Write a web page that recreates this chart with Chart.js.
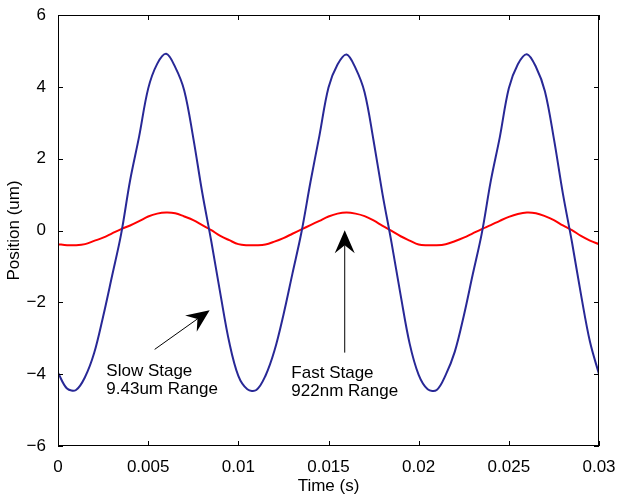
<!DOCTYPE html>
<html>
<head>
<meta charset="utf-8">
<script src="https://cdn.jsdelivr.net/npm/chart.js@4.4.1/dist/chart.umd.min.js"></script>
<style>
  html, body { margin: 0; padding: 0; background: #fff; }
  #chart { display: block; }
</style>
</head>
<body>
<canvas id="chart" width="617" height="497"></canvas>
<script>

/**
 * time axis (s)
 */
var time = [
  0, 0.0005, 0.001, 0.0015, 0.002, 0.0025, 0.003, 0.0035, 0.004, 0.0045,
  0.005, 0.0055, 0.006, 0.0065, 0.007, 0.0075, 0.008, 0.0085, 0.009, 0.0095,
  0.01, 0.0105, 0.011, 0.0115, 0.012, 0.0125, 0.013, 0.0135, 0.014, 0.0145,
  0.015, 0.0155, 0.016, 0.0165, 0.017, 0.0175, 0.018, 0.0185, 0.019, 0.0195,
  0.02, 0.0205, 0.021, 0.0215, 0.022, 0.0225, 0.023, 0.0235, 0.024, 0.0245,
  0.025, 0.0255, 0.026, 0.0265, 0.027, 0.0275, 0.028, 0.0285, 0.029, 0.0295,
  0.03
];

/**
 * slow stage position (um), blue
 */
var slowStage = [
  -3.96, -4.40, -4.44, -4.08, -3.42, -2.40, -1.26, -0.10, 1.40, 2.62,
  3.95, 4.64, 4.92, 4.55, 3.90, 2.58, 1.05, -0.30, -1.75, -3.12,
  -4.05, -4.42, -4.44, -4.05, -3.35, -2.35, -1.20, -0.05, 1.35, 2.65,
  3.98, 4.62, 4.90, 4.52, 3.85, 2.50, 1.00, -0.35, -1.80, -3.15,
  -4.02, -4.42, -4.44, -4.02, -3.38, -2.38, -1.22, -0.08, 1.38, 2.60,
  3.96, 4.63, 4.91, 4.56, 3.88, 2.55, 1.02, -0.32, -1.78, -3.10,
  -4.00
];

/**
 * fast stage position (um), red
 */
var fastStage = [
  -0.38, -0.41, -0.41, -0.38, -0.29, -0.20, -0.08, 0.04, 0.14, 0.26,
  0.39, 0.47, 0.50, 0.48, 0.39, 0.29, 0.15, 0.01, -0.15, -0.27,
  -0.38, -0.41, -0.41, -0.39, -0.31, -0.21, -0.09, 0.03, 0.15, 0.27,
  0.39, 0.47, 0.50, 0.47, 0.40, 0.28, 0.13, -0.01, -0.16, -0.28,
  -0.39, -0.41, -0.41, -0.38, -0.30, -0.20, -0.08, 0.04, 0.15, 0.27,
  0.38, 0.46, 0.50, 0.48, 0.40, 0.29, 0.14, 0.01, -0.15, -0.28,
  -0.38
];

/**
 * tick labels
 */
var xTickValues = [0, 0.005, 0.01, 0.015, 0.02, 0.025, 0.03];
var xTickLabels = ["0", "0.005", "0.01", "0.015", "0.02", "0.025", "0.03"];
var yTickValues = [-6, -4, -2, 0, 2, 4, 6];
var yTickLabels = ["\u22126", "\u22124", "\u22122", "0", "2", "4", "6"];

/**
 * annotations (data coordinates)
 */
var notes = [
  { from: [0.00536, -3.31], to: [0.00841, -2.22], at: [0.00268, -4.06], lines: ["Slow Stage", "9.43um Range"] },
  { from: [0.0159, -3.40], to: [0.0159, 0.01], at: [0.01294, -4.12], lines: ["Fast Stage", "922nm Range"] }
];

var FONT = "'Liberation Sans', Arial, Helvetica, sans-serif";

function toPoints(xs, ys) {
  var out = [];
  for (var i = 0; i < xs.length; i++) {
    out.push({ x: xs[i], y: ys[i] });
  }
  return out;
}

function arrow(ctx, x0, y0, x1, y1) {
  var ang = Math.atan2(y1 - y0, x1 - x0);
  var len = 23, half = 10, notch = 15;

  ctx.save();
  ctx.strokeStyle = "#000";
  ctx.fillStyle = "#000";
  ctx.lineWidth = 1;
  ctx.beginPath();
  ctx.moveTo(x0, y0);
  ctx.lineTo(x1 - Math.cos(ang) * notch, y1 - Math.sin(ang) * notch);
  ctx.stroke();

  ctx.translate(x1, y1);
  ctx.rotate(ang);
  ctx.beginPath();
  ctx.moveTo(0, 0);
  ctx.lineTo(-len, -half);
  ctx.lineTo(-notch, 0);
  ctx.lineTo(-len, half);
  ctx.closePath();
  ctx.fill();
  ctx.restore();
}

/**
 * box, inward ticks and the two notes
 */
var framePlugin = {
  id: "frame",
  afterDraw: function(chart) {
    var ctx = chart.ctx;
    var a = chart.chartArea;
    var sx = chart.scales.x, sy = chart.scales.y;
    var tick = 5;

    ctx.save();
    ctx.strokeStyle = "#000";
    ctx.lineWidth = 1;
    ctx.strokeRect(a.left + 0.5, a.top + 0.5, a.right - a.left - 1, a.bottom - a.top - 1);

    ctx.beginPath();
    xTickValues.forEach(function(v) {
      var px = Math.round(sx.getPixelForValue(v)) + 0.5;
      ctx.moveTo(px, a.bottom);
      ctx.lineTo(px, a.bottom - tick);
      ctx.moveTo(px, a.top);
      ctx.lineTo(px, a.top + tick);
    });
    yTickValues.forEach(function(v) {
      var py = Math.round(sy.getPixelForValue(v)) + 0.5;
      ctx.moveTo(a.left, py);
      ctx.lineTo(a.left + tick, py);
      ctx.moveTo(a.right, py);
      ctx.lineTo(a.right - tick, py);
    });
    ctx.stroke();
    ctx.restore();

    notes.forEach(function(n) {
      arrow(ctx,
        sx.getPixelForValue(n.from[0]), sy.getPixelForValue(n.from[1]),
        sx.getPixelForValue(n.to[0]), sy.getPixelForValue(n.to[1]));

      ctx.save();
      ctx.fillStyle = "#000";
      ctx.font = "17px " + FONT;
      ctx.textAlign = "left";
      ctx.textBaseline = "alphabetic";
      var tx = sx.getPixelForValue(n.at[0]);
      var ty = sy.getPixelForValue(n.at[1]);
      for (var i = 0; i < n.lines.length; i++) {
        ctx.fillText(n.lines[i], tx, ty + i * 17.6);
      }
      ctx.restore();
    });
  }
};

new Chart(document.getElementById("chart").getContext("2d"), {
  type: "line",
  data: {
    datasets: [
      {
        label: "Slow Stage",
        data: toPoints(time, slowStage),
        borderColor: "#282896",
        borderWidth: 2,
        pointRadius: 0,
        tension: 0.35,
        fill: false
      },
      {
        label: "Fast Stage",
        data: toPoints(time, fastStage),
        borderColor: "#ff0000",
        borderWidth: 2,
        pointRadius: 0,
        tension: 0.35,
        fill: false
      }
    ]
  },
  options: {
    responsive: false,
    devicePixelRatio: 1,
    animation: false,
    layout: { padding: { top: 15, right: 18, left: 0, bottom: 0 } },
    plugins: {
      legend: { display: false },
      tooltip: { enabled: false }
    },
    scales: {
      x: {
        type: "linear",
        min: 0,
        max: 0.03,
        afterBuildTicks: function(scale) {
          scale.ticks = xTickValues.map(function(v) { return { value: v }; });
        },
        afterFit: function(scale) {
          scale.height = 51;
          scale.paddingLeft = 0;
          scale.paddingRight = 0;
        },
        grid: { display: false },
        border: { display: false },
        ticks: {
          color: "#000",
          padding: 3,
          maxRotation: 0,
          autoSkip: false,
          font: { family: FONT, size: 17 },
          callback: function(v, i) { return xTickLabels[i]; }
        },
        title: {
          display: true,
          text: "Time (s)",
          color: "#000",
          font: { family: FONT, size: 17 },
          padding: { top: 0, bottom: 0 }
        }
      },
      y: {
        min: -6,
        max: 6,
        afterBuildTicks: function(scale) {
          scale.ticks = yTickValues.map(function(v) { return { value: v }; });
        },
        afterFit: function(scale) {
          scale.width = 58;
          scale.paddingTop = 0;
          scale.paddingBottom = 0;
        },
        grid: { display: false },
        border: { display: false },
        ticks: {
          color: "#000",
          padding: 4,
          autoSkip: false,
          font: { family: FONT, size: 17 },
          callback: function(v, i) { return yTickLabels[i]; }
        },
        title: {
          display: true,
          text: "Position (um)",
          color: "#000",
          font: { family: FONT, size: 17 },
          padding: { top: 4, bottom: 0 }
        }
      }
    }
  },
  plugins: [framePlugin]
});
</script>
</body>
</html>
